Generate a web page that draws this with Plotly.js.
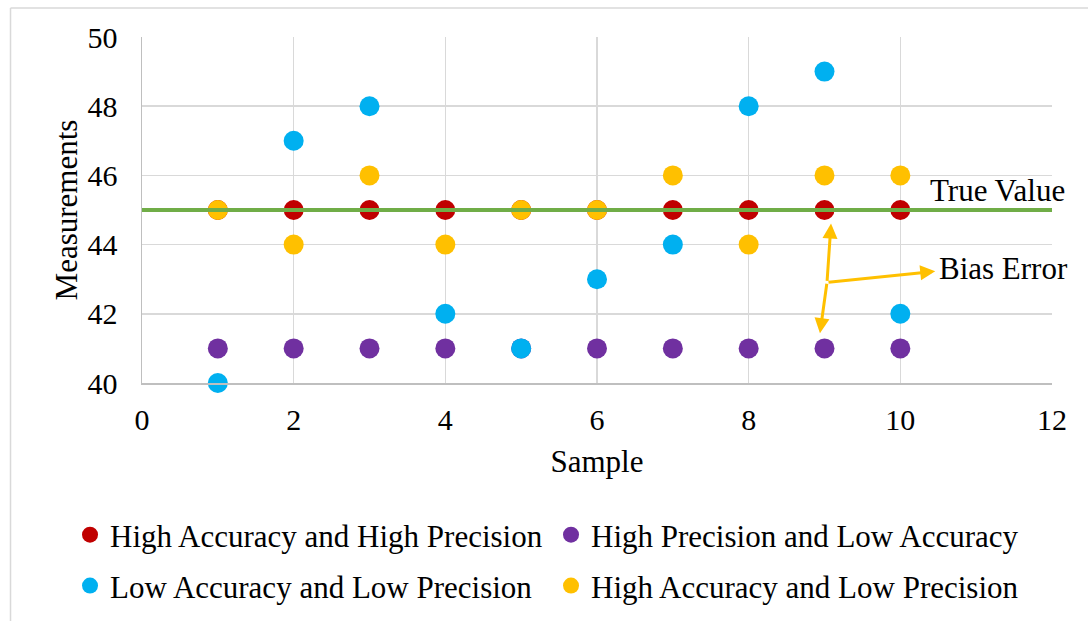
<!DOCTYPE html>
<html>
<head>
<meta charset="utf-8">
<script src="https://cdn.plot.ly/plotly-3.0.1.min.js"></script>
<style>html,body{margin:0;padding:0;background:#fff;}#chart{width:1088px;height:621px;}</style>
</head>
<body>
<div id="chart"></div>
<script>
const samples = [1, 2, 3, 4, 5, 6, 7, 8, 9, 10];
const highAccHighPrec = [45, 45, 45, 45, 45, 45, 45, 45, 45, 45];
const highPrecLowAcc = [41, 41, 41, 41, 41, 41, 41, 41, 41, 41];
const lowAccLowPrec = [40, 47, 48, 42, 41, 43, 44, 48, 49, 42];
const highAccLowPrec = [45, 44, 46, 44, 45, 45, 46, 44, 46, 46];
const trueValueX = [0, 12];
const trueValueY = [45, 45];
const seriesNames = ['High Accuracy and High Precision', 'High Precision and Low Accuracy', 'Low Accuracy and Low Precision', 'High Accuracy and Low Precision'];
const xTicks = [0, 2, 4, 6, 8, 10, 12];
const yTicks = [40, 42, 44, 46, 48, 50];

const FONT = '"Times New Roman", "Liberation Serif", serif';
const FS = 31;
const colors = ['#c00000', '#7030a0', '#00b0f0', '#ffc000'];
const seriesValues = [highAccHighPrec, highPrecLowAcc, lowAccLowPrec, highAccLowPrec];
const legendIds = ['legend', 'legend', 'legend2', 'legend2'];

const traces = seriesValues.map((vals, i) => ({
  type: 'scatter', mode: 'markers', x: samples, y: vals, name: seriesNames[i],
  marker: {color: colors[i], size: 20}, cliponaxis: false, legend: legendIds[i]
}));
traces.push({
  type: 'scatter', mode: 'lines', x: trueValueX, y: trueValueY, name: 'True Value',
  line: {color: '#70ad47', width: 4}, showlegend: false
});

const arrowStyle = {text: '', showarrow: true, axref: 'x', ayref: 'y', xref: 'x', yref: 'y',
  arrowhead: 2, arrowsize: 1, arrowwidth: 3, arrowcolor: '#ffc000', standoff: 0, startstandoff: 0};

const legendBase = {
  orientation: 'h', x: -0.0791, xanchor: 'left', yanchor: 'middle',
  entrywidth: 436, entrywidthmode: 'pixels', itemwidth: 30,
  font: {family: FONT, size: 31, color: '#000'}, bgcolor: 'rgba(0,0,0,0)'
};

const layout = {
  width: 1088, height: 621,
  paper_bgcolor: '#fff', plot_bgcolor: '#fff',
  margin: {l: 142, r: 36, t: 37, b: 238, autoexpand: false},
  font: {family: FONT, size: FS, color: '#000'},
  showlegend: true,
  xaxis: {
    range: [0, 12], tickvals: xTicks, showgrid: true, gridcolor: '#d9d9d9', gridwidth: 1.5,
    zeroline: false, showline: true, linecolor: '#bfbfbf', linewidth: 1.5,
    ticks: '', ticklabelstandoff: 9, automargin: false,
    tickfont: {family: FONT, size: 30, color: '#000'},
    title: {text: 'Sample', font: {family: FONT, size: FS, color: '#000'}, standoff: 16}
  },
  yaxis: {
    range: [40, 50], tickvals: yTicks, showgrid: true, gridcolor: '#d9d9d9', gridwidth: 1.5,
    zeroline: false, showline: true, linecolor: '#bfbfbf', linewidth: 1.5,
    ticks: '', ticklabelstandoff: 17, automargin: false,
    tickfont: {family: FONT, size: 30, color: '#000'},
    title: {text: 'Measurements', font: {family: FONT, size: FS, color: '#000'}, standoff: 0}
  },
  legend: Object.assign({}, legendBase, {y: (383 - 535.5) / 347}),
  legend2: Object.assign({}, legendBase, {y: (383 - 586.5) / 347}),
  annotations: [
    {x: 11.28, y: 45.56, xref: 'x', yref: 'y', text: 'True Value', showarrow: false,
     font: {family: FONT, size: FS, color: '#000'}},
    {x: 11.36, y: 43.31, xref: 'x', yref: 'y', text: 'Bias Error', showarrow: false,
     font: {family: FONT, size: FS, color: '#000'}},
    Object.assign({}, arrowStyle, {x: 9.086, y: 44.61, ax: 9.033, ay: 42.91}),
    Object.assign({}, arrowStyle, {x: 8.94, y: 41.44, ax: 9.033, ay: 42.91}),
    Object.assign({}, arrowStyle, {x: 10.46, y: 43.23, ax: 9.033, ay: 42.91})
  ],
  shapes: [
    {type: 'line', xref: 'paper', yref: 'paper', x0: -0.1445, x1: 1.2, y0: 1.0836, y1: 1.0836,
     line: {color: '#d9d9d9', width: 1.5}},
    {type: 'line', xref: 'paper', yref: 'paper', x0: -0.1445, x1: -0.1445, y0: 1.0836, y1: -1.0,
     line: {color: '#d9d9d9', width: 1.5}}
  ]
};

Plotly.newPlot('chart', traces, layout, {displayModeBar: false, staticPlot: true});
</script>
</body>
</html>
